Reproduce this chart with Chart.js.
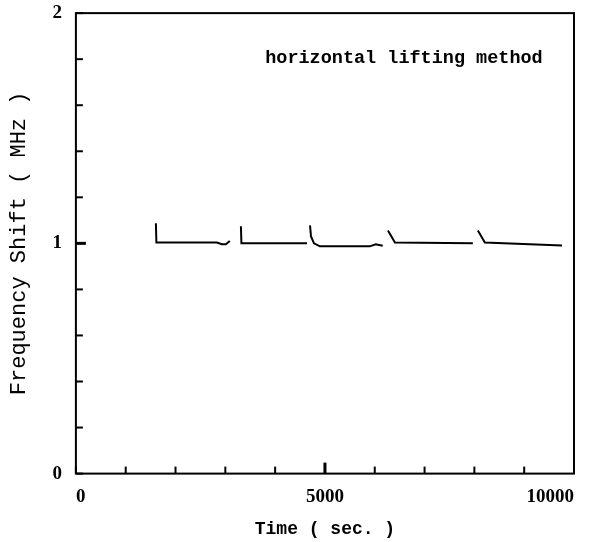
<!DOCTYPE html>
<html>
<head>
<meta charset="utf-8">
<script src="https://cdn.jsdelivr.net/npm/chart.js@4/dist/chart.umd.min.js"></script>
<style>
  html, body { margin: 0; padding: 0; background: #fff; }
  #wrap { width: 607px; height: 542px; }
</style>
</head>
<body>
<div id="wrap"><canvas id="chart-shift"></canvas></div>
<script>
// Frequency shift vs time, horizontal lifting method
// each run separated by null so the line breaks between them
const timeSec = [
    1606, 1616, 2830, 2930, 3010, 3090, null,
    3313, 3323, 4500, 4640, null,
    4700, 4720, 4780, 4900, 5900, 6020, 6160, null,
    6265, 6405, 7970, null,
    8070, 8210, 9760
];
const shiftMHz = [
    1.087, 1.004, 1.004, 0.996, 0.996, 1.01, null,
    1.074, 1.0, 1.0, 1.0, null,
    1.078, 1.03, 1.0, 0.987, 0.987, 0.996, 0.99, null,
    1.056, 1.004, 1.0, null,
    1.056, 1.004, 0.991
];

const xLabels = [0, 5000, 10000];
const yLabels = [0, 1, 2];
const annotation = 'horizontal lifting method';

const points = timeSec.map((t, i) => t === null ? { x: null, y: null } : { x: t, y: shiftMHz[i] });

const serif = '"Liberation Serif", "DejaVu Serif", serif';
const mono = '"Liberation Mono", "DejaVu Sans Mono", monospace';

// frame + inward tick marks + annotation text
const frameTicks = {
    id: 'frameTicks',
    afterDraw(chart) {
        const { ctx, chartArea: a, scales } = chart;
        ctx.save();
        ctx.strokeStyle = '#000';
        ctx.lineWidth = 2;
        ctx.strokeRect(a.left, a.top, a.right - a.left, a.bottom - a.top);

        scales.x.ticks.forEach(t => {
            const px = scales.x.getPixelForValue(t.value);
            const major = t.value === 5000;
            ctx.lineWidth = major ? 3 : 2;
            ctx.beginPath();
            ctx.moveTo(px, a.bottom);
            ctx.lineTo(px, a.bottom - (major ? 11 : 7));
            ctx.stroke();
        });
        scales.y.ticks.forEach(t => {
            const py = scales.y.getPixelForValue(t.value);
            const major = Math.abs(t.value - 1) < 1e-6;
            ctx.lineWidth = major ? 3 : 2;
            ctx.beginPath();
            ctx.moveTo(a.left, py);
            ctx.lineTo(a.left + (major ? 10 : 7), py);
            ctx.stroke();
        });

        ctx.fillStyle = '#000';
        ctx.font = 'bold 18.5px ' + mono;
        ctx.textBaseline = 'middle';
        ctx.fillText(annotation, scales.x.getPixelForValue(3800), scales.y.getPixelForValue(1.805));
        ctx.restore();
    }
};

new Chart(document.getElementById('chart-shift').getContext('2d'), {
    type: 'line',
    data: {
        datasets: [{
            label: 'Frequency Shift',
            data: points,
            borderColor: '#000',
            borderWidth: 2,
            pointRadius: 0,
            tension: 0,
            spanGaps: false
        }]
    },
    options: {
        responsive: true,
        maintainAspectRatio: false,
        animation: false,
        layout: { padding: { top: 0, right: 33, bottom: 2, left: 6 } },
        plugins: {
            legend: { display: false },
            tooltip: { enabled: false }
        },
        scales: {
            x: {
                type: 'linear',
                min: 0,
                max: 10000,
                grid: { display: false },
                border: { display: false },
                ticks: {
                    stepSize: 1000,
                    autoSkip: false,
                    maxRotation: 0,
                    align: 'inner',
                    color: '#000',
                    padding: 4,
                    font: { family: serif, size: 19, weight: 'bold' },
                    callback: v => xLabels.includes(v) ? String(v) : ''
                },
                title: {
                    display: true,
                    text: 'Time ( sec. )',
                    color: '#000',
                    padding: { top: 6, bottom: 0 },
                    font: { family: mono, size: 18, weight: 'bold' }
                }
            },
            y: {
                min: 0,
                max: 2,
                grid: { display: false },
                border: { display: false },
                ticks: {
                    stepSize: 0.2,
                    autoSkip: false,
                    color: '#000',
                    padding: 6,
                    font: { family: serif, size: 19, weight: 'bold', lineHeight: 0.75 },
                    callback: v => yLabels.some(l => Math.abs(l - v) < 1e-6) ? String(Math.round(v)) : ''
                },
                title: {
                    display: true,
                    text: 'Frequency Shift ( MHz )',
                    color: '#000',
                    padding: { top: 0, bottom: 14 },
                    font: { family: mono, size: 22 }
                }
            }
        }
    },
    plugins: [frameTicks]
});
</script>
</body>
</html>
